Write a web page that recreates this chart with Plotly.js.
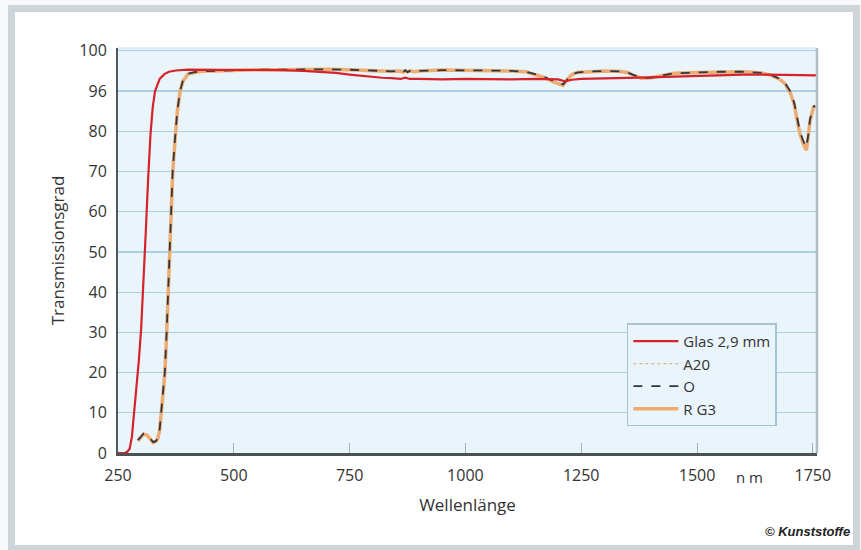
<!DOCTYPE html>
<html>
<head>
<meta charset="utf-8">
<script src="https://cdn.plot.ly/plotly-3.0.1.min.js"></script>
<style>
  html, body { margin: 0; padding: 0; background: #f6f8f9; width: 861px; height: 550px; overflow: hidden; }
  #frame { position: absolute; left: 8px; top: 5px; width: 838px; height: 533px; border: 7px solid #cdd5d9; background: #ffffff; }
  #chart { position: absolute; left: 0; top: 0; width: 861px; height: 550px; }
</style>
</head>
<body>
<div id="frame"></div>
<div id="chart"></div>
<script>
// Glas 2,9 mm
const glasWl = [250,260,265,270,275,280,285,290,295,300,305,310,315,320,325,330,340,350,360,375,400,450,500,550,600,650,700,720,750,780,800,820,840,860,870,880,900,950,1000,1050,1100,1150,1200,1215,1230,1250,1300,1350,1400,1450,1500,1550,1600,1650,1700,1759];
const glasT  = [0,0,0,0.3,1,4,10,16,23,31,42,55,68,79,86,90,93,94.2,94.8,95.1,95.3,95.3,95.3,95.2,95.2,95.0,94.7,94.5,94.1,93.7,93.5,93.3,93.2,93.0,93.3,93.0,93.0,92.9,93.0,92.9,92.9,93.0,92.9,92.4,92.8,93.0,93.1,93.2,93.4,93.6,93.8,94.0,94.1,94.1,94.0,93.9];

// Filter curves (A20, O, RG3)
const filtWl = [293,300,305,313,320,326,332,336,340,345,348,351,355,358,361,364,368,373,378,384,390,401,415,430,460,500,550,600,650,700,750,800,820,840,860,865,870,875,880,890,900,950,1000,1050,1100,1130,1150,1170,1190,1200,1211,1220,1230,1241,1260,1300,1330,1350,1365,1380,1400,1420,1450,1500,1550,1600,1640,1660,1679,1690,1701,1710,1716,1722,1729,1736,1740,1744,1751,1755];
const oT   = [3.2,4.2,4.8,4.5,3.5,2.7,3.0,3.7,6,12,16,20,30,40,50,60,70,78,85,90,92.5,94.3,94.7,94.9,95.0,95.2,95.3,95.3,95.4,95.4,95.3,95.2,95.0,94.9,95.0,94.6,95.2,94.7,95.0,94.8,95.0,95.2,95.2,95.1,95.0,94.8,94.2,93.5,92.5,92.0,91.7,93.0,94.2,94.6,94.8,95.0,94.9,94.6,93.8,93.2,93.3,93.8,94.4,94.6,94.8,94.8,94.5,94.0,93.0,92.0,90.0,87.0,83.4,80.0,77.7,76.0,79.0,83.0,86.0,86.4];
const a20T = [3.3,4.3,4.9,4.6,3.6,2.8,3.1,3.8,6.2,12.3,16.3,20.5,30.5,40.5,50.5,60.5,70.5,78.3,85.2,90.1,92.6,94.3,94.7,94.9,95.0,95.2,95.3,95.3,95.4,95.4,95.3,95.2,95.0,94.9,95.0,94.7,95.2,94.7,95.0,94.8,95.0,95.2,95.2,95.1,95.0,94.8,94.2,93.5,92.4,91.9,91.6,93.0,94.2,94.6,94.8,95.0,94.9,94.6,93.8,93.2,93.3,93.8,94.4,94.6,94.8,94.8,94.5,94.0,93.0,92.0,90.0,87.0,83.2,79.8,77.4,75.7,78.8,82.8,85.9,86.4];
const rg3T = [3.0,4.1,4.7,4.4,3.4,2.6,2.9,3.6,5.8,11.7,15.7,19.6,29.5,39.5,49.5,59.5,69.5,77.7,84.8,89.9,92.4,94.2,94.6,94.9,95.0,95.2,95.3,95.3,95.4,95.4,95.3,95.2,95.0,94.9,95.0,94.7,95.1,94.8,95.0,94.8,95.0,95.2,95.2,95.1,95.0,94.8,94.1,93.4,92.3,91.8,91.4,92.9,94.1,94.6,94.8,95.0,94.9,94.6,93.8,93.2,93.3,93.8,94.4,94.6,94.8,94.8,94.5,93.9,92.9,91.8,89.7,86.6,82.9,79.4,77.0,75.3,78.6,82.6,85.8,86.3];

const yTickVals = [0,10,20,30,40,50,60,70,80,90,100];
const yTickText = ["0","10","20","30","40","50","60","70","80","96","100"];
const xTickVals = [250,500,750,1000,1250,1500,1750];
const xTickText = ["250","500","750","1000","1250","1500","1750"];

const traces = [
  {x: filtWl, y: rg3T, name: "R G3", type: "scatter", mode: "lines",
   line: {color: "#f0aa6e", width: 3.5}, legendrank: 4},
  {x: filtWl, y: a20T, name: "A20", type: "scatter", mode: "lines",
   line: {color: "#d9b68c", width: 1.2, dash: "dot"}, legendrank: 2},
  {x: filtWl, y: oT, name: "O", type: "scatter", mode: "lines",
   line: {color: "#2f3640", width: 1.8, dash: "dash"}, legendrank: 3},
  {x: glasWl, y: glasT, name: "Glas 2,9 mm", type: "scatter", mode: "lines",
   line: {color: "#d4232b", width: 2.2}, legendrank: 1}
];

const font = "'Open Sans', 'Noto Sans', sans-serif";

const layout = {
  width: 861, height: 550,
  paper_bgcolor: "rgba(0,0,0,0)",
  plot_bgcolor: "#eaf4fb",
  margin: {l: 118, r: 44, t: 48, b: 97},
  font: {family: font, color: "#333333", size: 15},
  showlegend: true,
  legend: {
    x: 0.728, y: 0.32, xanchor: "left", yanchor: "top",
    bgcolor: "#eaf4fb", bordercolor: "#a9c3d0", borderwidth: 1.5,
    font: {family: font, size: 15, color: "#333"},
    tracegroupgap: 0, traceorder: "normal", itemwidth: 45
  },
  xaxis: {
    range: [250, 1759], tickmode: "array", tickvals: xTickVals, ticktext: xTickText,
    showgrid: false, zeroline: false,
    showline: true, linecolor: "#4a5256", linewidth: 3,
    ticks: "inside", ticklen: 10, tickwidth: 1, tickcolor: "#9fb0b8",
    ticklabelstandoff: 6,
    tickfont: {family: font, size: 16, color: "#333"},
    title: {text: "Wellenlänge", font: {family: font, size: 17, color: "#333"}, standoff: 14},
    fixedrange: true
  },
  yaxis: {
    range: [0, 100.7], tickmode: "array", tickvals: yTickVals, ticktext: yTickText,
    showgrid: true, gridcolor: "#a9d0e2", gridwidth: 1.2,
    zeroline: false, showline: true, linecolor: "#4f5a60", linewidth: 2,
    ticks: "", ticklabelstandoff: 6,
    tickfont: {family: font, size: 16, color: "#333"},
    title: {text: "Transmissionsgrad", font: {family: font, size: 17, color: "#333"}, standoff: 10},
    fixedrange: true
  },
  shapes: [
    {type: "line", xref: "paper", yref: "paper", x0: 1, x1: 1, y0: 0, y1: 1,
     line: {color: "#aebcc4", width: 2.5}},
    {type: "line", xref: "paper", yref: "paper", x0: 0, x1: 1, y0: 1, y1: 1,
     line: {color: "#c6dfec", width: 1}}
  ],
  annotations: [
    {text: "n m", xref: "x", yref: "paper", x: 1614, y: -0.06, showarrow: false,
     font: {family: font, size: 15, color: "#333"}, xanchor: "center", yanchor: "middle"},
    {text: "<b><i>© Kunststoffe</i></b>", xref: "paper", yref: "paper", x: 1.05, y: -0.194,
     showarrow: false, xanchor: "right", yanchor: "middle",
     font: {family: "'Liberation Sans', sans-serif", size: 13, color: "#222"}}
  ]
};

Plotly.newPlot("chart", traces, layout, {staticPlot: true, displayModeBar: false});
</script>
</body>
</html>
